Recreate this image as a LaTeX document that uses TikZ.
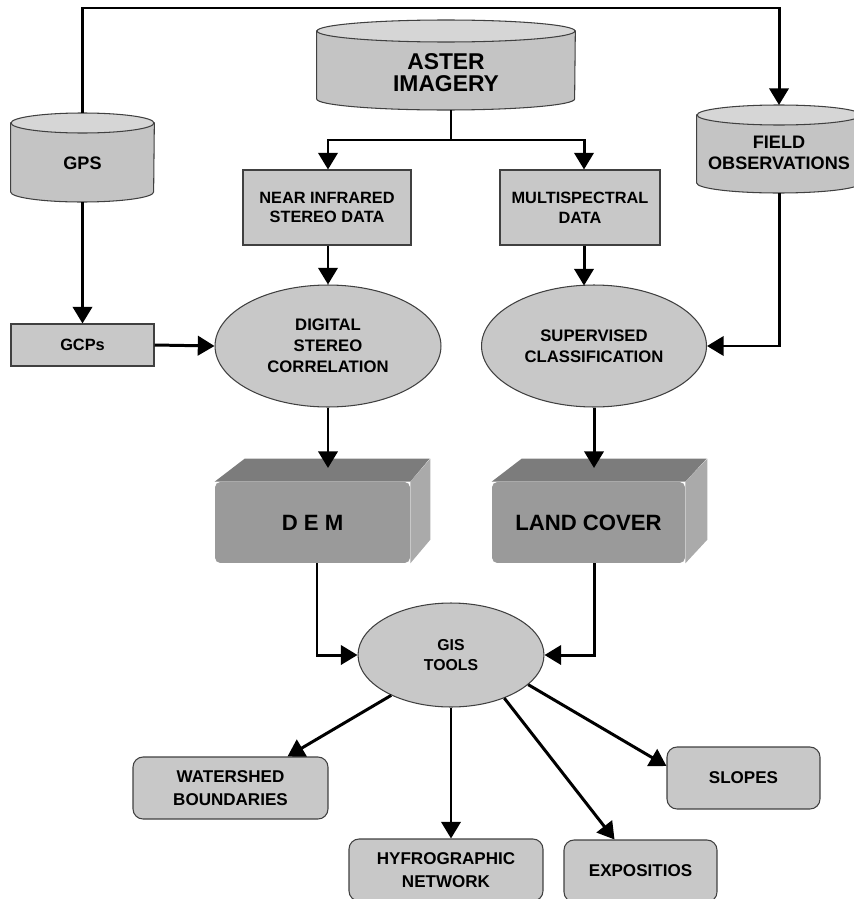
\documentclass[tikz,border=0pt]{standalone}
\usepackage{fontspec}
\setmainfont{Liberation Sans}
\usetikzlibrary{shapes.geometric,arrows.meta,calc,backgrounds}

\definecolor{boxgray}{RGB}{200,200,200}
\definecolor{cylbody}{RGB}{196,196,196}
\definecolor{cyltop}{RGB}{214,214,214}
\definecolor{blockfront}{RGB}{154,154,154}
\definecolor{blocktop}{RGB}{124,124,124}
\definecolor{blockside}{RGB}{170,170,170}
\definecolor{edgegray}{RGB}{64,64,64}

\tikzset{
  arr/.style={line width=1.7pt, -{Triangle[length=9.5pt,width=11pt]}},
  lnk/.style={line width=1.7pt},
  databox/.style={draw=edgegray, line width=0.6pt, fill=boxgray, align=center,
    inner sep=0pt, font=\fontsize{9.3}{11.3}\selectfont\bfseries},
  outbox/.style={databox, rounded corners=0.2cm, font=\fontsize{9.7}{13}\selectfont\bfseries},
  procell/.style={ellipse, draw=edgegray, line width=0.6pt, fill=boxgray, align=center,
    inner sep=0pt, font=\fontsize{9.5}{12}\selectfont\bfseries},
  store/.style={align=center, inner sep=0pt, font=\fontsize{10.3}{12}\selectfont\bfseries},
  cylside/.style={draw=edgegray, line width=0.6pt, fill=cylbody},
  cylend/.style={draw=edgegray, line width=0.6pt, fill=cyltop},
  block/.style={fill=blockfront, rounded corners=3pt, inner sep=0pt,
    minimum height=1.62cm, font=\fontsize{12.6}{14}\selectfont\bfseries}
}

\begin{document}
\begin{tikzpicture}[x=0.02cm,y=-0.02cm]
  \useasboundingbox (0,0) rectangle (854,899);

  % sources (cylinders drawn round the text)
  \node[store, minimum width=5.16cm, font=\fontsize{13}{12.5}\selectfont\bfseries] (aster) at (446,73) {ASTER\\IMAGERY};
  \node[store, minimum width=2.86cm] (gps) at (82.5,163) {GPS};
  \node[store, minimum width=3.28cm] (field) at (779,152.5) {FIELD\\OBSERVATIONS};
  \begin{scope}[on background layer]
    \draw[cylside] ($(aster.west)+(0,-42)$) -- ($(aster.west)+(0,26)$)
      arc[start angle=180, end angle=360, x radius=2.58cm, y radius=0.22cm] -- ($(aster.east)+(0,-42)$) -- cycle;
    \draw[cylend] ($(aster)+(0,-42)$) ellipse [x radius=2.58cm, y radius=0.22cm];
    \draw[cylside] ($(gps.west)+(0,-40)$) -- ($(gps.west)+(0,29)$)
      arc[start angle=180, end angle=360, x radius=1.43cm, y radius=0.2cm] -- ($(gps.east)+(0,-40)$) -- cycle;
    \draw[cylend] ($(gps)+(0,-40)$) ellipse [x radius=1.43cm, y radius=0.2cm];
    \draw[cylside] ($(field.west)+(0,-37.5)$) -- ($(field.west)+(0,30.5)$)
      arc[start angle=180, end angle=360, x radius=1.64cm, y radius=0.2cm] -- ($(field.east)+(0,-37.5)$) -- cycle;
    \draw[cylend] ($(field)+(0,-37.5)$) ellipse [x radius=1.64cm, y radius=0.2cm];
  \end{scope}
  \coordinate (gpstop) at (82.5,113);
  \coordinate (fieldtop) at (779,105);
  \coordinate (fieldbot) at (779,193);
  \coordinate (gpsbot) at (82.5,202);
  \coordinate (asterbot) at (451,110);

  % data
  \node[databox, minimum width=3.36cm, minimum height=1.5cm] (nir) at (327,207.5) {NEAR INFRARED\\STEREO DATA};
  \node[databox, minimum width=3.2cm, minimum height=1.5cm] (ms) at (580,207.5) {MULTISPECTRAL\\DATA};
  \node[databox, minimum width=2.86cm, minimum height=0.84cm] (gcp) at (82.5,345) {GCPs};

  % processing
  \node[procell, minimum width=4.52cm, minimum height=2.44cm] (dsc) at (328,346) {DIGITAL\\STEREO\\CORRELATION};
  \node[procell, minimum width=4.5cm, minimum height=2.44cm] (sc) at (594,346) {SUPERVISED\\CLASSIFICATION};

  % products (3d blocks)
  \node[block, minimum width=3.9cm] (dem) at (312.5,522.5) {D E M};
  \fill[blocktop] (dem.north west) -- ++(30,-23) -- ++(185,0) -- (dem.north east) -- cycle;
  \fill[blockside] (dem.north east) -- ++(20,-23) -- ++(0,81) -- (dem.south east) -- cycle;
  \node[block, minimum width=3.86cm] (lc) at (588.5,522.5) {LAND COVER};
  \fill[blocktop] (lc.north west) -- ++(30,-23) -- ++(185,0) -- (lc.north east) -- cycle;
  \fill[blockside] (lc.north east) -- ++(22,-23) -- ++(0,81) -- (lc.south east) -- cycle;

  \node[procell, minimum width=3.72cm, minimum height=2.08cm,
        font=\fontsize{9}{11.3}\selectfont\bfseries] (gis) at (451,655) {GIS\\TOOLS};

  % outputs
  \node[outbox, minimum width=3.9cm, minimum height=1.24cm] (ws) at (230.5,788) {WATERSHED\\BOUNDARIES};
  \node[outbox, minimum width=3.88cm, minimum height=1.24cm] (hy) at (446,870) {HYFROGRAPHIC\\NETWORK};
  \node[outbox, minimum width=3.06cm, minimum height=1.24cm] (ex) at (640.5,871) {EXPOSITIOS};
  \node[outbox, minimum width=3.06cm, minimum height=1.24cm] (sl) at (743.5,778) {SLOPES};

  \coordinate (top) at (450,8);
  \coordinate (split) at (451,140);
  \coordinate (demtop) at (328,468);
  \coordinate (lctop) at (594,468);

  % connectors
  \draw[arr] (gpstop) |- (top) -| (fieldtop);
  \draw[lnk] (asterbot) -- (split);
  \draw[arr] (split) -| (nir.north -| dsc.north);
  \draw[arr] (split) -| ($(ms.north)+(4,0)$);
  \draw[arr] (gpsbot) -- (gcp.north);
  \draw[arr] (gcp.east) -- (dsc.west);
  \draw[arr] (nir.south -| dsc.north) -- (dsc.north);
  \draw[arr] ($(ms.south)+(4,0)$) -- ($(ms.south)+(4,40)$);
  \draw[arr] (fieldbot) |- (sc.east);
  \draw[arr] (dsc.south) -- (demtop);
  \draw[arr] (sc.south) -- (lctop);
  \draw[arr] ($(dem.south)+(4.5,0)$) |- (gis.west);
  \draw[arr] (lc.south -| sc.south) |- (gis.east);
  \draw[arr] (gis.214) -- ($(ws.north)+(57,0)$);
  \draw[arr] (gis.south) -- (gis.south |- hy.north);
  \draw[arr] (gis.321) -- ($(ex.north)+(-26,0)$);
  \draw[arr] (gis.339) -- ($(sl.west)+(0,-12)$);
\end{tikzpicture}
\end{document}
